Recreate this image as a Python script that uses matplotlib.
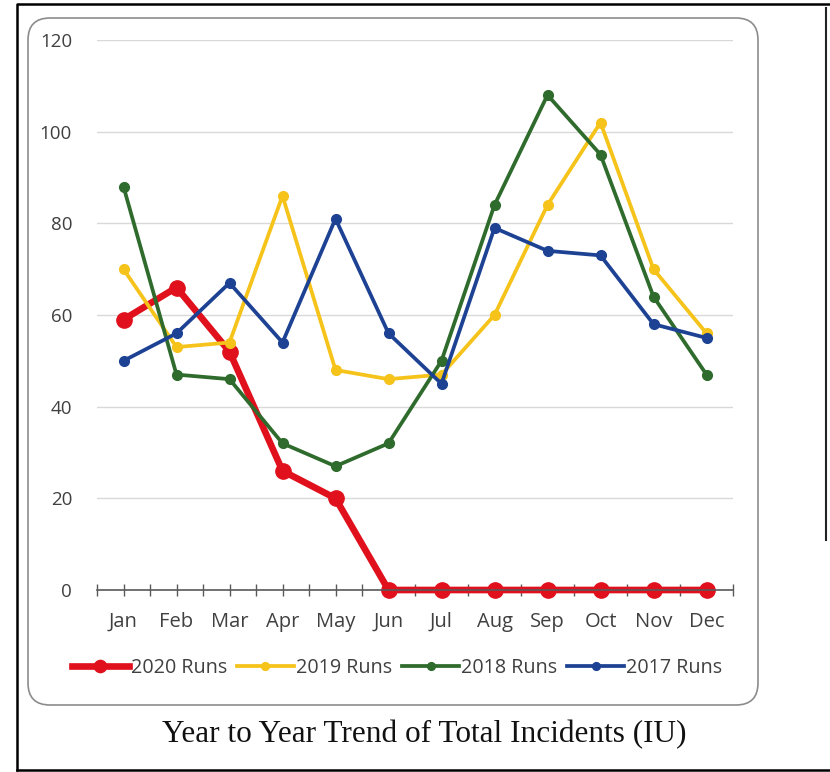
import matplotlib
matplotlib.use("Agg")
import matplotlib.pyplot as plt
from matplotlib.patches import FancyBboxPatch
from matplotlib.lines import Line2D

months = ["Jan", "Feb", "Mar", "Apr", "May", "Jun", "Jul", "Aug", "Sep", "Oct", "Nov", "Dec"]
runs_2020 = [59, 66, 52, 26, 20, 0, 0, 0, 0, 0, 0, 0]
runs_2019 = [70, 53, 54, 86, 48, 46, 47, 60, 84, 102, 70, 56]
runs_2018 = [88, 47, 46, 32, 27, 32, 50, 84, 108, 95, 64, 47]
runs_2017 = [50, 56, 67, 54, 81, 56, 45, 79, 74, 73, 58, 55]
series_labels = ["2020 Runs", "2019 Runs", "2018 Runs", "2017 Runs"]
y_ticks = [0, 20, 40, 60, 80, 100, 120]
title = "Year to Year Trend of Total Incidents (IU)"

colors = ["#E0101C", "#F5C31A", "#2E6B2C", "#1D4294"]
W, H = 830, 772
fig = plt.figure(figsize=(W / 100, H / 100), dpi=100)
fig.patch.set_facecolor("white")

# outer scan frame
frame = fig.add_axes([0, 0, 1, 1], zorder=-5)
frame.set_xlim(0, W)
frame.set_ylim(H, 0)
frame.axis("off")
frame.plot([17, 17, 830], [770, 4, 4], color="black", lw=1.8)
frame.plot([17, 830], [770, 770], color="black", lw=1.8)
frame.plot([826, 826], [8, 540], color="#222222", lw=1.5)
box = FancyBboxPatch((28, 18), 730, 687, boxstyle="round,pad=0,rounding_size=22",
                     fc="white", ec="#8c8c8c", lw=1.2)
frame.add_patch(box)

ax = fig.add_axes([97 / W, 1 - 590 / H, (733 - 97) / W, (590 - 40) / H])
ax.set_facecolor("none")
x = list(range(len(months)))
data = [runs_2020, runs_2019, runs_2018, runs_2017]
lws = [4.8, 2.7, 2.7, 2.7]
mss = [11, 7, 7, 7]
for vals, c, lab, lw, ms in zip(data, colors, series_labels, lws, mss):
    ax.plot(x, vals, color=c, lw=lw, marker="o", ms=ms, label=lab, clip_on=False)

ax.set_xlim(-0.5, len(months) - 0.5)
ax.set_ylim(0, 120)
ax.set_yticks(y_ticks)
ax.set_yticklabels([str(v) for v in y_ticks])
ax.yaxis.grid(True, color="#d9d9d9", lw=1)
ax.set_axisbelow(True)
for s in ["top", "right", "left"]:
    ax.spines[s].set_visible(False)
ax.spines["bottom"].set_color("#595959")
ax.spines["bottom"].set_linewidth(1.2)
ax.tick_params(axis="y", length=0, pad=18, labelsize=13.5, labelcolor="#404040")
ax.set_xticks(x)
ax.set_xticklabels(months)
ax.set_xticks([i - 0.5 for i in range(len(months) + 1)], minor=True)
ax.tick_params(axis="x", which="both", direction="inout", length=9, width=1,
               color="#595959", labelsize=14.5, labelcolor="#404040", pad=11)
for lbl in ax.get_xticklabels() + ax.get_yticklabels():
    lbl.set_family("Open Sans")

handles = [Line2D([], [], color=c, lw=lw, marker="o", ms=ms * 0.8)
           for c, lw, ms in zip(colors, lws, mss)]
leg = fig.legend(handles, series_labels, loc="center", bbox_to_anchor=(397 / W, 1 - 668 / H),
                 ncol=4, frameon=False, handlelength=2.9, handletextpad=0.1,
                 columnspacing=0.5, prop={"family": "Open Sans", "size": 14.2})
for t in leg.get_texts():
    t.set_color("#404040")

fig.text(424 / W, 1 - 735 / H, title, ha="center", va="center",
         family="Liberation Serif", fontsize=22.5, color="#111111")

fig.savefig("out.png", dpi=100, facecolor="white")
